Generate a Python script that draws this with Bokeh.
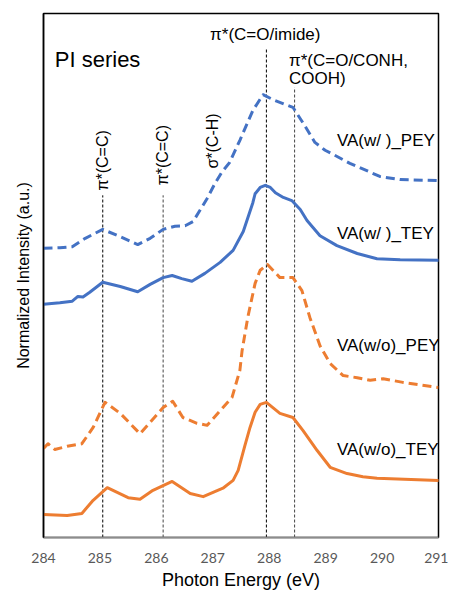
import math
from bokeh.plotting import figure
from bokeh.models import Range1d, FixedTicker, Label, Title
from bokeh.core.properties import value
from bokeh.embed import file_html
from bokeh.resources import INLINE

# ---- data ----
pey_w_x = [284.0, 284.29, 284.51, 284.74, 285.05, 285.36, 285.67, 285.89, 286.12, 286.33, 286.51, 286.65,
           286.77, 286.90, 287.04, 287.16, 287.30, 287.48, 287.71, 287.89, 288.10, 288.42, 288.63, 288.81,
           288.99, 289.17, 289.43, 289.73, 289.96, 290.32, 291.0]
pey_w_y = [5.52, 5.53, 5.55, 5.71, 5.88, 5.74, 5.59, 5.71, 5.88, 5.94, 5.95, 6.03,
           6.24, 6.47, 6.76, 6.97, 7.16, 7.58, 8.15, 8.45, 8.34, 8.21, 7.86, 7.54,
           7.39, 7.29, 7.14, 7.00, 6.89, 6.83, 6.81]

tey_w_x = [284.0, 284.29, 284.51, 284.61, 284.70, 284.82, 285.05, 285.36, 285.67, 285.89, 286.12, 286.28,
           286.45, 286.63, 286.86, 287.13, 287.36, 287.54, 287.71, 287.75, 287.84, 287.93, 288.02, 288.11,
           288.25, 288.40, 288.55, 288.67, 288.90, 289.20, 289.56, 289.91, 290.32, 291.0]
tey_w_y = [4.45, 4.48, 4.51, 4.60, 4.59, 4.68, 4.87, 4.79, 4.69, 4.83, 4.96, 5.00,
           4.94, 4.89, 5.04, 5.25, 5.48, 5.84, 6.39, 6.56, 6.68, 6.72, 6.68, 6.58,
           6.49, 6.43, 6.26, 6.05, 5.76, 5.57, 5.42, 5.32, 5.30, 5.29]

pey_wo_x = [284.0, 284.08, 284.20, 284.42, 284.68, 284.88, 285.09, 285.36, 285.71, 286.12, 286.29, 286.47,
            286.72, 286.90, 287.13, 287.34, 287.48, 287.52, 287.62, 287.75, 287.84, 287.97, 288.19, 288.42,
            288.58, 288.72, 288.90, 289.08, 289.31, 289.56, 289.79, 290.02, 290.37, 291.0]
pey_wo_y = [1.70, 1.79, 1.68, 1.74, 1.79, 2.10, 2.58, 2.37, 1.98, 2.48, 2.60, 2.29,
            2.18, 2.14, 2.42, 2.67, 3.19, 3.57, 4.20, 4.85, 5.10, 5.21, 4.96, 4.96,
            4.71, 4.20, 3.66, 3.32, 3.09, 3.05, 3.00, 3.03, 2.96, 2.86]

tey_wo_x = [284.0, 284.42, 284.68, 284.88, 285.13, 285.50, 285.71, 285.94, 286.28, 286.60, 286.83, 287.18,
            287.36, 287.45, 287.57, 287.66, 287.75, 287.84, 287.95, 288.19, 288.42, 288.60, 288.85, 289.08,
            289.38, 289.66, 289.91, 291.0]
tey_wo_y = [0.44, 0.42, 0.46, 0.71, 0.95, 0.76, 0.73, 0.90, 1.07, 0.84, 0.78, 0.94,
            1.09, 1.28, 1.76, 2.10, 2.39, 2.54, 2.58, 2.37, 2.29, 2.04, 1.66, 1.34,
            1.22, 1.16, 1.13, 1.09]

ref_x = [285.05, 286.12, 287.95, 288.45]
ref_top = [6.53, 6.53, 9.35, 8.59]
ref_color = ["#000000", "#444444", "#000000", "#444444"]

rot_labels = ["π*(C=C)", "π*(C=C)", "σ*(C-H)"]
rot_x = [285.04, 286.10, 286.99]
rot_y = [6.62, 6.72, 7.04]

series_labels = ["VA(w/ )_PEY", "VA(w/ )_TEY", "VA(w/o)_PEY", "VA(w/o)_TEY"]
series_label_y = [7.58, 5.80, 3.66, 1.68]
series_label_x = 289.2

x_ticks = [284, 285, 286, 287, 288, 289, 290, 291]

BLUE = "#4472C4"
ORANGE = "#ED7D31"
FONT = "Liberation Sans"

p = figure(width=448, height=593, output_backend="svg", toolbar_location=None,
           x_range=Range1d(284, 291), y_range=Range1d(0, 10),
           min_border_left=43, min_border_right=10, min_border_top=13, min_border_bottom=56)
p.xgrid.visible = False
p.ygrid.visible = False
p.outline_line_color = "#000000"
p.outline_line_width = 1.5
p.background_fill_color = "white"
p.border_fill_color = "white"

# x axis
xa = p.xaxis[0]
xa.ticker = FixedTicker(ticks=x_ticks)
xa.major_tick_line_color = None
xa.minor_tick_line_color = None
xa.major_tick_out = 0
xa.major_tick_in = 0
xa.axis_line_color = "#8c8c8c"
xa.axis_line_width = 1.5
xa.major_label_text_font = "Lato"
xa.major_label_text_font_size = "14px"
xa.major_label_text_color = "#595959"
xa.major_label_standoff = 15
xa.axis_label = "Photon Energy (eV)"
xa.axis_label_text_font = FONT
xa.axis_label_text_font_size = "18px"
xa.axis_label_text_font_style = "normal"
xa.axis_label_text_color = "#000000"
xa.axis_label_standoff = 4

# y axis: line only
ya = p.yaxis[0]
ya.major_tick_line_color = None
ya.minor_tick_line_color = None
ya.major_tick_out = 0
ya.major_tick_in = 0
ya.major_label_text_font_size = "0px"
ya.major_label_text_color = None
ya.major_label_standoff = 0
ya.axis_line_color = "#000000"
ya.axis_line_width = 1.5

p.add_layout(Title(text="Normalized Intensity (a.u.)", align="center", offset=21,
                   text_font=FONT, text_font_size="16px", text_font_style="normal",
                   text_color="#000000", standoff=16), "left")

# reference dashed lines
for rx, rt, rc in zip(ref_x, ref_top, ref_color):
    p.segment(x0=[rx], y0=[0], x1=[rx], y1=[rt], line_color=rc, line_width=1, line_dash="3 2")

# curves
p.line(pey_w_x, pey_w_y, line_color=BLUE, line_width=3, line_dash="9 5", line_join="round")
p.line(tey_w_x, tey_w_y, line_color=BLUE, line_width=3, line_join="round", line_cap="round")
p.line(pey_wo_x, pey_wo_y, line_color=ORANGE, line_width=3, line_dash="9 5", line_join="round")
p.line(tey_wo_x, tey_wo_y, line_color=ORANGE, line_width=3, line_join="round", line_cap="round")

# rotated peak labels
p.text(x=rot_x, y=rot_y, text=rot_labels, angle=math.pi / 2, text_align="left",
       text_baseline="middle", text_font=value(FONT), text_font_size="16px", text_color="#000000")

# top labels
p.add_layout(Label(x=284.2, y=9.12, text="PI series", text_font=FONT, text_font_size="22px",
                   text_align="left", text_baseline="middle", text_color="#000000"))
p.add_layout(Label(x=287.93, y=9.6, text="π*(C=O/imide)", text_font=FONT, text_font_size="17px",
                   text_align="center", text_baseline="middle", text_color="#000000"))
p.add_layout(Label(x=288.35, y=9.1, text="π*(C=O/CONH,", text_font=FONT, text_font_size="17px",
                   text_align="left", text_baseline="middle", text_color="#000000"))
p.add_layout(Label(x=288.35, y=8.76, text="COOH)", text_font=FONT, text_font_size="17px",
                   text_align="left", text_baseline="middle", text_color="#000000"))

# series labels
p.text(x=[series_label_x] * 4, y=series_label_y, text=series_labels, text_align="left",
       text_baseline="middle", text_font=value(FONT), text_font_size="17px", text_color="#000000")

open("out.html", "w").write(file_html(p, INLINE))
